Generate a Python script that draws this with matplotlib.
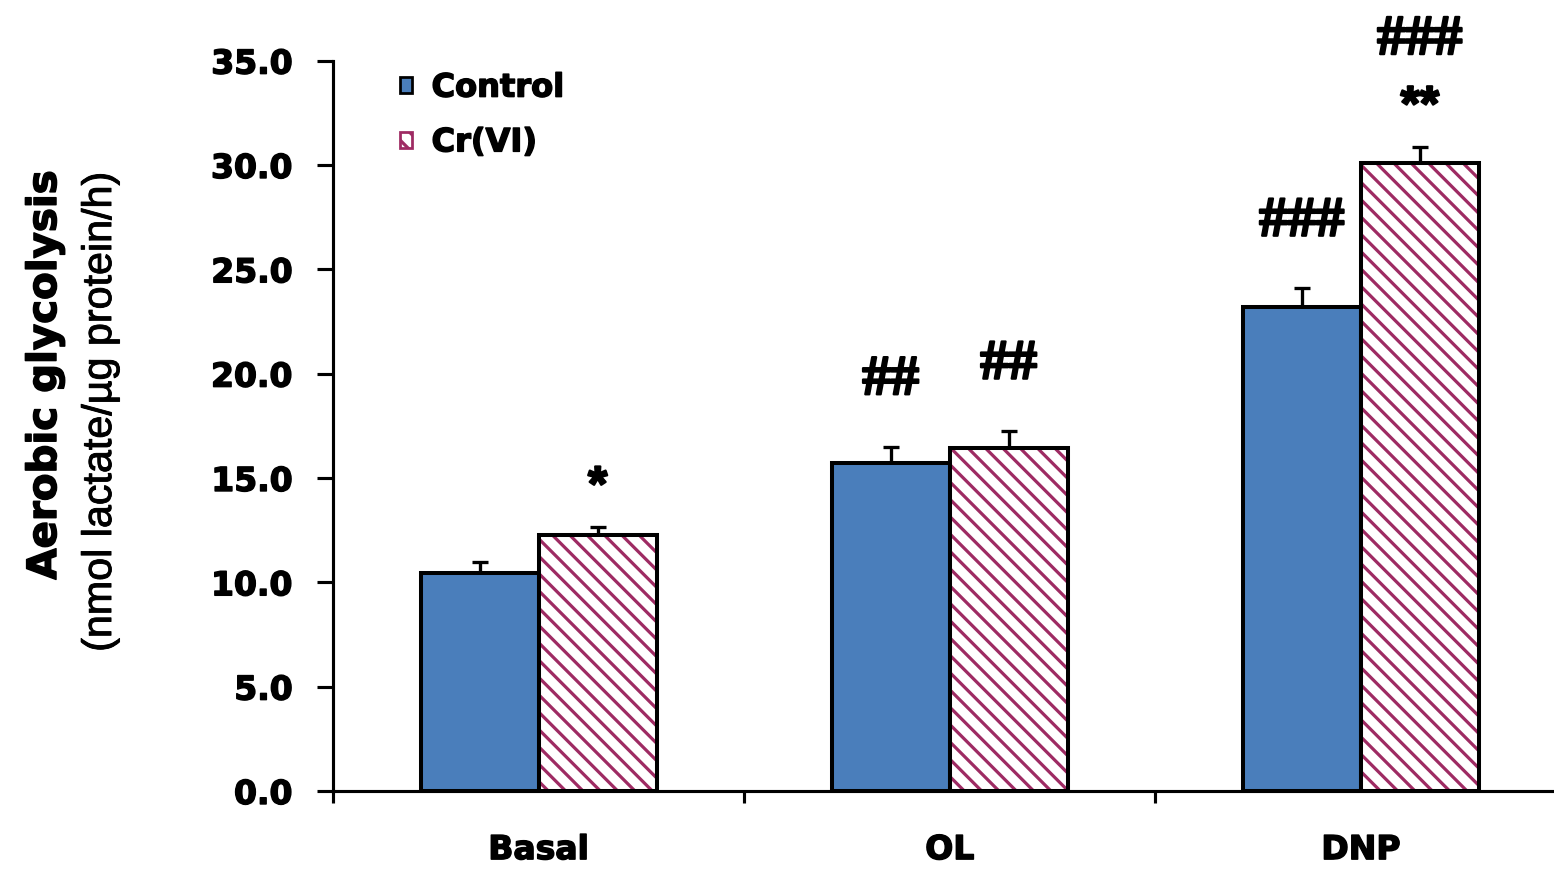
import matplotlib
matplotlib.use("Agg")
import matplotlib.pyplot as plt
import matplotlib.patheffects as pe
import numpy as np

# Aerobic glycolysis, nmol lactate / ug protein / h
groups = ["Basal", "OL", "DNP"]
control_mean = [10.45, 15.73, 23.2]
control_err = [0.53, 0.77, 0.9]
crvi_mean = [12.27, 16.45, 30.1]
crvi_err = [0.38, 0.8, 0.77]

# significance marks, stacked bottom to top above each bar
control_marks = [[], ["##"], ["###"]]
crvi_marks = [["*"], ["##"], ["**", "###"]]

blue = "#4a7ebb"
maroon = "#9e2b63"

# the hatch spacing follows the dpi, so sizes below are scaled to it
DPI = 104
W, H = 1554, 869


def p(v):
    return v * 132 / DPI


plt.rcParams["hatch.linewidth"] = p(1.75)
plt.rcParams["font.family"] = ["DejaVu Sans"]

heavy = [pe.withStroke(linewidth=p(0.8), foreground="black")]

# small margin so the canvas is not truncated a pixel short
fig = plt.figure(figsize=((W + 0.4) / DPI, (H + 0.4) / DPI), dpi=DPI)
ax = fig.add_axes([333 / W, 1 - 791 / H, 1221 / W, 730 / H])

x = np.arange(len(groups))
w = 0.287

ax.bar(x - w / 2, control_mean, w, color=blue, edgecolor="black", linewidth=p(2.2), zorder=2)
# hatch drawn in maroon, black outline drawn on top
ax.bar(x + w / 2, crvi_mean, w, color="white", edgecolor=maroon, hatch="\\\\", linewidth=0, zorder=2)
ax.bar(x + w / 2, crvi_mean, w, fill=False, edgecolor="black", linewidth=p(2.2), zorder=3)

zeros = np.zeros(len(groups))
ekw = dict(fmt="none", ecolor="black", elinewidth=p(1.8), capsize=p(4.5), capthick=p(1.8), zorder=1)
ax.errorbar(x - w / 2, control_mean, yerr=[zeros, control_err], **ekw)
ax.errorbar(x + w / 2, crvi_mean, yerr=[zeros, crvi_err], **ekw)


def put_marks(xs, tops, errs, marks):
    for xi, top, e, labels in zip(xs, tops, errs, marks):
        off = None
        for lab in labels:
            is_hash = lab.startswith("#")
            if off is None:
                off = 22 if is_hash else 9
            else:
                off += 35
            ax.annotate(lab, (xi, top + e), xytext=(0, p(off)), textcoords="offset points",
                        ha="center", va="bottom",
                        fontsize=p(31 if is_hash else 27), fontweight="bold",
                        family="Liberation Serif" if is_hash else "Liberation Sans",
                        annotation_clip=False,
                        path_effects=[pe.withStroke(linewidth=p(1.2), foreground="black")])


put_marks(x - w / 2, control_mean, control_err, control_marks)
put_marks(x + w / 2, crvi_mean, crvi_err, crvi_marks)

ax.set_xlim(-0.5, -0.5 + 1221 / 411)
ax.set_ylim(0, 35)
yt = np.arange(0, 35.1, 5)
ax.set_yticks(yt)
ax.set_yticklabels([f"{v:.1f}" for v in yt])
ax.set_xticks(x)
ax.set_xticklabels(groups)
ax.set_xticks([-0.5, 0.5, 1.5], minor=True)

for s in ["top", "right"]:
    ax.spines[s].set_visible(False)
for s in ["left", "bottom"]:
    ax.spines[s].set_linewidth(p(1.7))

ax.tick_params(axis="y", direction="out", length=p(9), width=p(1.7), pad=p(13), labelsize=p(18))
ax.tick_params(axis="x", which="major", length=0, pad=p(23), labelsize=p(18))
ax.tick_params(axis="x", which="minor", direction="out", length=p(6.5), width=p(1.7))
for lab in ax.get_xticklabels() + ax.get_yticklabels():
    lab.set_fontweight("bold")
    lab.set_path_effects(heavy)

fig.text(45 / W, 1 - 375 / H, "Aerobic glycolysis", rotation=90, ha="center", va="center",
         fontsize=p(22), fontweight="bold", path_effects=heavy)
fig.text(100 / W, 1 - 412 / H, "(nmol lactate/\u00b5g protein/h)", rotation=90, ha="center",
         va="center", fontsize=p(22.5), family="Liberation Sans",
         path_effects=[pe.withStroke(linewidth=p(0.5), foreground="black")])

h1 = plt.Rectangle((0, 0), 1, 1, facecolor=blue, edgecolor="black", linewidth=p(1.5))
h2 = plt.Rectangle((0, 0), 1, 1, facecolor="white", edgecolor=maroon, hatch="\\\\", linewidth=p(1.5))
leg = ax.legend([h1, h2], ["Control", "Cr(VI)"], loc="upper left",
                bbox_to_anchor=((400 - 333) / 1221, (791 - 73) / 730),
                frameon=False, borderpad=0, borderaxespad=0,
                handlelength=0.38, handleheight=0.38, handletextpad=0.6,
                labelspacing=0.74, prop={"weight": "bold", "size": p(17.5)})
for t in leg.get_texts():
    t.set_path_effects(heavy)

fig.savefig("out.png", dpi=DPI)
